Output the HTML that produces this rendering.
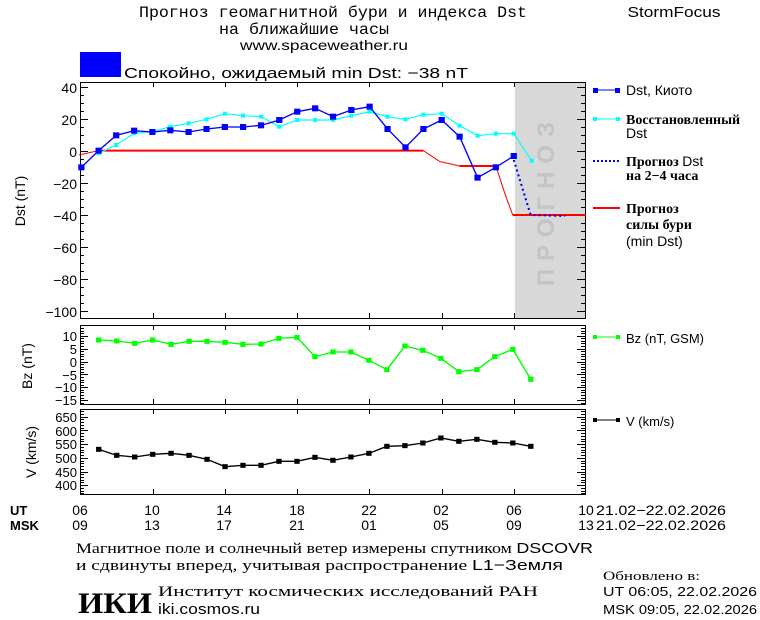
<!DOCTYPE html>
<html><head><meta charset="utf-8"><style>
body{margin:0;background:#fff;width:760px;height:620px;overflow:hidden}
svg{display:block}
text{font-family:"Liberation Sans","DejaVu Sans",sans-serif;fill:#000}
.m{font-family:"Liberation Mono","DejaVu Sans Mono",monospace}
.s{font-family:"Liberation Serif","DejaVu Serif",serif}
</style></head><body>
<svg id="c" width="760" height="620" viewBox="0 0 760 620" xmlns="http://www.w3.org/2000/svg">
<text x="333" y="17" text-anchor="middle" class="m" font-size="16" textLength="388" lengthAdjust="spacingAndGlyphs">Прогноз геомагнитной бури и индекса Dst</text>
<text x="304" y="34" text-anchor="middle" class="m" font-size="16" textLength="170" lengthAdjust="spacingAndGlyphs">на ближайшие часы</text>
<text x="324" y="50" text-anchor="middle" font-size="14" textLength="168" lengthAdjust="spacingAndGlyphs">www.spaceweather.ru</text>
<text x="674" y="17" text-anchor="middle" font-size="15" textLength="93" lengthAdjust="spacingAndGlyphs">StormFocus</text>
<rect x="80" y="52" width="41" height="25" fill="#0000ff"/>
<text x="124" y="78" font-size="15" textLength="344" lengthAdjust="spacingAndGlyphs">Спокойно, ожидаемый min Dst: −38 nT</text>

<rect x="515" y="82" width="70" height="236" fill="#d8d8d8"/>
<text transform="translate(554,200) rotate(-90)" text-anchor="middle" font-size="24" font-weight="bold" style="fill:#c4c4c4" letter-spacing="8">ПРОГНОЗ</text>
<g fill="none" stroke="#000" stroke-width="1">
<rect x="80.5" y="82.5" width="505" height="236"/>
<rect x="80.5" y="325.5" width="505" height="79"/>
<rect x="80.5" y="409.5" width="505" height="85"/>
</g>
<g id="ticks" stroke="#000" stroke-width="1"></g>

<g transform="translate(60,80) scale(0.3448,0.3333)">
<polyline fill="none" stroke="#ff0000" stroke-width="3" points="55,225 112,212"/>
<polyline fill="none" stroke="#ff0000" stroke-width="6" points="112,212 1054,212"/>
<polyline fill="none" stroke="#ff0000" stroke-width="3" points="1054,212 1102,245 1159,258"/>
<polyline fill="none" stroke="#ff0000" stroke-width="6" points="1159,258 1264,258"/>
<polyline fill="none" stroke="#ff0000" stroke-width="3" points="1264,258 1290,340 1313,405"/>
<polyline fill="none" stroke="#ff0000" stroke-width="6" points="1313,405 1525,405"/>
<polyline fill="none" stroke="#00ffff" stroke-width="3.5" points="112,220 163,195 215,160 268,155 320,140 373,130 425,118 478,101 531,107 583,110 636,140 688,120 740,120 792,120 845,107 898,95 950,110 1002,118 1054,104 1107,101 1159,137 1211,167 1264,161 1316,161 1368,242"/>
<g fill="#00ffff" id="cy"></g>
<polyline fill="none" stroke="#0000ff" stroke-width="6" stroke-dasharray="6,9" points="1316,240 1365,405 1465,408"/>
<polyline fill="none" stroke="#0000ff" stroke-width="4" points="62,262 112,212 163,166 215,152 268,156 320,151 373,156 425,147 478,141 531,141 583,136 636,120 688,95 740,85 792,110 845,90 898,80 950,147 1002,202 1054,147 1107,120 1159,170 1211,293 1264,262 1316,228"/>
<g fill="#0000ff" id="bl"></g>
</g>

<g transform="translate(0,320) scale(0.3827,0.3333)">
<polyline fill="none" stroke="#00ff00" stroke-width="4" points="258,60 305,63 352,70 399,60 447,73 494,64 541,64 588,67 635,73 682,72 729,55 776,52 823,110 870,96 917,96 964,121 1011,149 1058,78 1105,91 1152,115 1199,155 1246,149 1293,110 1340,88 1387,178"/>
<g fill="#00ff00" id="gr"></g>
<polyline fill="none" stroke="#000" stroke-width="4" points="258,388 305,406 352,411 399,403 447,400 494,406 541,418 588,440 635,436 682,436 729,424 776,424 823,412 870,421 917,411 964,400 1011,379 1058,377 1105,369 1152,354 1199,364 1246,358 1293,367 1340,369 1387,379"/>
<g fill="#000" id="bk"></g>
</g>

<g font-size="14" text-anchor="end">
<text x="77" y="93">40</text><text x="77" y="125">20</text><text x="77" y="157">0</text><text x="77" y="189">−20</text><text x="77" y="221">−40</text><text x="77" y="253">−60</text><text x="77" y="285">−80</text><text x="77" y="317">−100</text>
</g>
<g font-size="13" text-anchor="end">
<text x="77" y="341">10</text><text x="77" y="354">5</text><text x="77" y="367">0</text><text x="77" y="380">−5</text><text x="77" y="392">−10</text><text x="77" y="405">−15</text>
<text x="77" y="422">650</text><text x="77" y="436">600</text><text x="77" y="449">550</text><text x="77" y="463">500</text><text x="77" y="477">450</text><text x="77" y="490">400</text>
</g>
<text transform="translate(25,201) rotate(-90)" text-anchor="middle" font-size="14">Dst (nT)</text>
<text transform="translate(32,366) rotate(-90)" text-anchor="middle" font-size="14">Bz (nT)</text>
<text transform="translate(36,452) rotate(-90)" text-anchor="middle" font-size="14">V (km/s)</text>

<g font-size="14">
<line x1="593" y1="90" x2="620" y2="90" stroke="#0000ff"/><rect x="593" y="88" width="5" height="5" fill="#0000ff"/><rect x="615" y="88" width="5" height="5" fill="#0000ff"/>
<text x="626" y="95">Dst, Киото</text>
<line x1="593" y1="119" x2="620" y2="119" stroke="#00ffff"/><rect x="593" y="117" width="4" height="4" fill="#00ffff"/><rect x="616" y="117" width="4" height="4" fill="#00ffff"/>
<text x="626" y="124" class="s" font-weight="bold" font-size="14">Восстановленный</text>
<text x="626" y="138">Dst</text>
<line x1="593" y1="161" x2="620" y2="161" stroke="#0000ff" stroke-width="2" stroke-dasharray="2,2"/>
<text x="626" y="166" class="s" font-weight="bold">Прогноз <tspan font-family="Liberation Sans" font-weight="normal">Dst</tspan></text>
<text x="626" y="180" class="s" font-weight="bold">на 2−4 часа</text>
<line x1="593" y1="208" x2="620" y2="208" stroke="#ff0000" stroke-width="2"/>
<text x="626" y="213" class="s" font-weight="bold">Прогноз</text>
<text x="626" y="229" class="s" font-weight="bold">силы бури</text>
<text x="626" y="246">(min Dst)</text>
<line x1="593" y1="337" x2="620" y2="337" stroke="#00ff00"/><rect x="593" y="335" width="4" height="4" fill="#00ff00"/><rect x="616" y="335" width="4" height="4" fill="#00ff00"/>
<text x="626" y="343" font-size="13">Bz (nT, GSM)</text>
<line x1="593" y1="420" x2="620" y2="420" stroke="#000"/><rect x="593" y="418" width="4" height="4" fill="#000"/><rect x="616" y="418" width="4" height="4" fill="#000"/>
<text x="626" y="426" font-size="13">V (km/s)</text>
</g>

<g font-size="14">
<text x="10" y="515" font-weight="bold" font-size="13">UT</text>
<text x="10" y="530" font-weight="bold" font-size="13">MSK</text>
<g text-anchor="middle">
<text x="80" y="515">06</text><text x="152" y="515">10</text><text x="224" y="515">14</text><text x="297" y="515">18</text><text x="369" y="515">22</text><text x="441" y="515">02</text><text x="514" y="515">06</text><text x="586" y="515">10</text>
<text x="80" y="530">09</text><text x="152" y="530">13</text><text x="224" y="530">17</text><text x="297" y="530">21</text><text x="369" y="530">01</text><text x="441" y="530">05</text><text x="514" y="530">09</text><text x="586" y="530">13</text>
</g>
<text x="596" y="515" textLength="130" lengthAdjust="spacingAndGlyphs">21.02−22.02.2026</text>
<text x="596" y="530" textLength="130" lengthAdjust="spacingAndGlyphs">21.02−22.02.2026</text>
</g>

<text x="76" y="553" class="s" font-size="15" textLength="517" lengthAdjust="spacingAndGlyphs">Магнитное поле и солнечный ветер измерены спутником <tspan font-family="Liberation Sans">DSCOVR</tspan></text>
<text x="76" y="570" class="s" font-size="15" textLength="487" lengthAdjust="spacingAndGlyphs">и сдвинуты вперед, учитывая распространение <tspan font-family="Liberation Sans">L1−Земля</tspan></text>
<text x="78" y="613" class="s" font-size="30" font-weight="bold" textLength="74" lengthAdjust="spacingAndGlyphs">ИКИ</text>
<text x="158" y="596" class="s" font-size="15" textLength="380" lengthAdjust="spacingAndGlyphs">Институт космических исследований РАН</text>
<text x="158" y="614" font-size="15" textLength="102" lengthAdjust="spacingAndGlyphs">iki.cosmos.ru</text>
<text x="603" y="580" class="s" font-size="13" textLength="97" lengthAdjust="spacingAndGlyphs">Обновлено в:</text>
<text x="603" y="596" font-size="13" textLength="154" lengthAdjust="spacingAndGlyphs">UT   06:05, 22.02.2026</text>
<text x="603" y="614" font-size="13" textLength="154" lengthAdjust="spacingAndGlyphs">MSK 09:05, 22.02.2026</text>
</svg>
<script>
var NS="http://www.w3.org/2000/svg";
function L(g,x1,y1,x2,y2){var l=document.createElementNS(NS,"line");l.setAttribute("x1",x1);l.setAttribute("y1",y1);l.setAttribute("x2",x2);l.setAttribute("y2",y2);g.appendChild(l);}
var t=document.getElementById("ticks");
[[82,318],[325,404],[409,494]].forEach(function(p){
 for(var i=1;i<7;i++){var x=Math.round(80.5+72.2*i)+.5;L(t,x,p[0],x,p[0]+5);L(t,x,p[1],x,p[1]-5);}
});
for(var v=-100;v<=40;v+=5){var y=Math.round(151-1.6*v)+.5;var len=(v%20==0)?8:4;L(t,80,y,80+len,y);L(t,585,y,585-len,y);}
for(var v=-16;v<=13;v++){var y=Math.round(335.7+(10-v)*2.58)+.5;if(y<326||y>404)continue;var len=(v%5==0)?8:4;L(t,80,y,80+len,y);L(t,585,y,585-len,y);}
for(var v=370;v<=670;v+=10){var y=Math.round(416.7+(650-v)*0.274)+.5;if(y<410||y>494)continue;var len=(v%50==0)?8:4;L(t,80,y,80+len,y);L(t,585,y,585-len,y);}
function M(id,pts,sx,sy){var g=document.getElementById(id);pts.split(" ").forEach(function(p){var a=p.split(",");var r=document.createElementNS(NS,"rect");r.setAttribute("x",a[0]-sx/2);r.setAttribute("y",a[1]-sy/2);r.setAttribute("width",sx);r.setAttribute("height",sy);g.appendChild(r);});}
M("cy","112,220 163,195 215,160 268,155 320,140 373,130 425,118 478,101 531,107 583,110 636,140 688,120 740,120 792,120 845,107 898,95 950,110 1002,118 1054,104 1107,101 1159,137 1211,167 1264,161 1316,161 1368,242",12,12);
M("bl","62,262 112,212 163,166 215,152 268,156 320,151 373,156 425,147 478,141 531,141 583,136 636,120 688,95 740,85 792,110 845,90 898,80 950,147 1002,202 1054,147 1107,120 1159,170 1211,293 1264,262 1316,228",18,18);
M("gr","258,60 305,63 352,70 399,60 447,73 494,64 541,64 588,67 635,73 682,72 729,55 776,52 823,110 870,96 917,96 964,121 1011,149 1058,78 1105,91 1152,115 1199,155 1246,149 1293,110 1340,88 1387,178",14,15);
M("bk","258,388 305,406 352,411 399,403 447,400 494,406 541,418 588,440 635,436 682,436 729,424 776,424 823,412 870,421 917,411 964,400 1011,379 1058,377 1105,369 1152,354 1199,364 1246,358 1293,367 1340,369 1387,379",14,15);
</script>
</body></html>
